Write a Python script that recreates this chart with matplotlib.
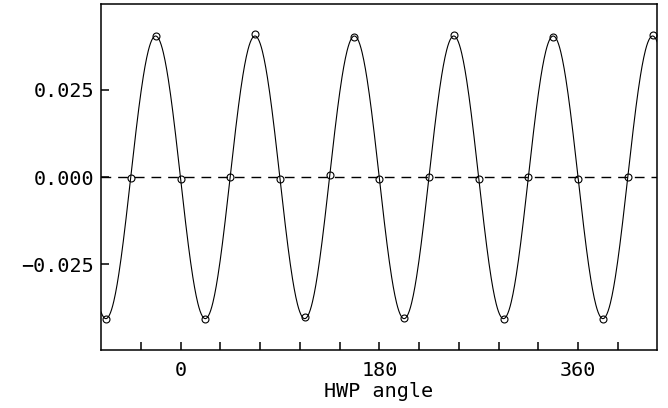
import numpy as np
import matplotlib
matplotlib.use("Agg")
import matplotlib.pyplot as plt

hwp_angle = [-67.5, -45.0, -22.5, 0.0, 22.5, 45.0, 67.5, 90.0, 112.5, 135.0,
             157.5, 180.0, 202.5, 225.0, 247.5, 270.0, 292.5, 315.0, 337.5,
             360.0, 382.5, 405.0, 427.5]
signal = [-0.0405, -0.0002, 0.0404, -0.0004, -0.0405, 0.0000, 0.0409, -0.0004,
          -0.0401, 0.0006, 0.0403, -0.0004, -0.0403, 0.0001, 0.0407, -0.0004,
          -0.0406, 0.0001, 0.0403, -0.0004, -0.0405, 0.0001, 0.0407]

xticks = [-36, 0, 36, 72, 108, 144, 180, 216, 252, 288, 324, 360, 396]
xtick_labels = ["", "0", "", "", "", "", "180", "", "", "", "", "360", ""]
yticks = [-0.025, 0.0, 0.025]
ytick_labels = ["\u22120.025", "0.000", "0.025"]

plt.rcParams['font.family'] = ['DejaVu Sans Mono']

x = np.array(hwp_angle)
y = np.array(signal)

# least-squares fit of a + b cos(4t) + c sin(4t)
t = np.radians(x)
A = np.column_stack([np.ones_like(t), np.cos(4 * t), np.sin(4 * t)])
coef = np.linalg.lstsq(A, y, rcond=None)[0]

xlim = (-72, 431.5)
xf = np.linspace(xlim[0], xlim[1], 1000)
tf = np.radians(xf)
yf = coef[0] + coef[1] * np.cos(4 * tf) + coef[2] * np.sin(4 * tf)

fig = plt.figure(figsize=(6.68, 4.08), dpi=100)
ax = fig.add_axes([0.1512, 0.1422, 0.8325, 0.8478])

ax.axhline(0, color='black', lw=1.0, ls=(0, (7, 5)))
ax.plot(xf, yf, color='black', lw=0.8)
ax.plot(x, y, 'o', mfc='none', mec='black', mew=0.8, ms=5)

ax.set_xlim(*xlim)
ax.set_ylim(-0.0495, 0.0496)
ax.set_xticks(xticks)
ax.set_xticklabels(xtick_labels)
ax.set_yticks(yticks)
ax.set_yticklabels(ytick_labels)
ax.tick_params(direction='in', length=6, width=1.1, labelsize=14.5)
ax.tick_params(axis='x', pad=8)
ax.tick_params(axis='y', pad=5)
for s in ax.spines.values():
    s.set_linewidth(1.1)
ax.set_xlabel("HWP angle", fontsize=14.5, labelpad=1.5)

fig.savefig("out.png", dpi=100)
